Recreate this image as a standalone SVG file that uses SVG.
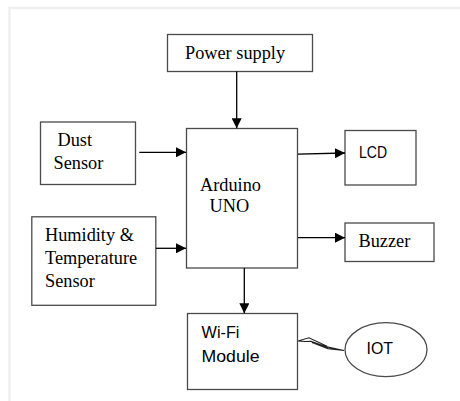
<svg xmlns="http://www.w3.org/2000/svg" width="460" height="401" viewBox="0 0 460 401">
<style>
.box{fill:#fff;stroke:#4a4a4a;stroke-width:1.3}
.serif{font-family:"Liberation Serif","Times New Roman",serif;font-size:18.3px;fill:#000}
.sans{font-family:"Liberation Sans",Arial,sans-serif;font-size:16.5px;fill:#000}
.conn{stroke:#000;stroke-width:1.3;fill:none}
</style>
<defs>
<marker id="ah" viewBox="0 0 10 10" refX="10" refY="5" markerWidth="10" markerHeight="10" markerUnits="userSpaceOnUse" orient="auto">
<path d="M0,0 L10,5 L0,10 Z" fill="#000"/>
</marker>
</defs>
<rect x="0" y="0" width="460" height="401" fill="#fff"/>
<path d="M9.5,401 L9.5,8 L460,8" fill="none" stroke="#efefef" stroke-width="2.5"/>

<g id="power">
<rect class="box" x="167.5" y="34.5" width="145" height="37"/>
<text class="serif" x="185" y="58.5">Power supply</text>
</g>
<g id="arduino">
<rect class="box" x="186.5" y="128.5" width="111" height="139.5"/>
<text class="serif" x="200" y="191">Arduino</text>
<text class="serif" x="209.5" y="212">UNO</text>
</g>
<g id="dust">
<rect class="box" x="40.5" y="122" width="95" height="62.5"/>
<text class="serif" x="57.5" y="146">Dust</text>
<text class="serif" x="53.5" y="169">Sensor</text>
</g>
<g id="humidity">
<rect class="box" x="31.8" y="216.8" width="124" height="88.5"/>
<text class="serif" x="45" y="240.5">Humidity &amp;</text>
<text class="serif" x="45" y="264">Temperature</text>
<text class="serif" x="45" y="287">Sensor</text>
</g>
<g id="lcd">
<rect class="box" x="345" y="130.5" width="71" height="54.5"/>
<text class="sans" x="359" y="157.5" font-size="17" textLength="28" lengthAdjust="spacingAndGlyphs">LCD</text>
</g>
<g id="buzzer">
<rect class="box" x="345" y="223" width="89" height="38.5"/>
<text class="serif" x="358.5" y="247">Buzzer</text>
</g>
<g id="wifi">
<rect class="box" x="187.5" y="313.5" width="110" height="76"/>
<text class="sans" x="201.5" y="338" textLength="38" lengthAdjust="spacingAndGlyphs">Wi-Fi</text>
<text class="sans" x="201.5" y="361.5" textLength="58" lengthAdjust="spacingAndGlyphs">Module</text>
</g>
<g id="iot">
<ellipse class="box" cx="386" cy="349.7" rx="41" ry="27"/>
<text class="sans" x="366.5" y="353.5" textLength="26.5" lengthAdjust="spacingAndGlyphs">IOT</text>
</g>

<g id="connectors">
<line class="conn" x1="236.7" y1="71.5" x2="236.7" y2="128.3" marker-end="url(#ah)"/>
<line class="conn" x1="139.3" y1="152.3" x2="186" y2="152.3" marker-end="url(#ah)"/>
<line class="conn" x1="156" y1="248.3" x2="186" y2="248.3" marker-end="url(#ah)"/>
<line class="conn" x1="298" y1="154.2" x2="345" y2="153" marker-end="url(#ah)"/>
<line class="conn" x1="298" y1="237.7" x2="345" y2="237.7" marker-end="url(#ah)"/>
<line class="conn" x1="244.3" y1="268" x2="244.3" y2="313.3" marker-end="url(#ah)"/>
<path d="M298,341 L309,337.8 L327,346.2 L312,342.6 L328,348.6 L344,350.5 L327,346.9 L311,341.4 L305,341.5 Z" fill="#fff" stroke="#222" stroke-width="1.1" stroke-linejoin="miter"/>
</g>
</svg>
